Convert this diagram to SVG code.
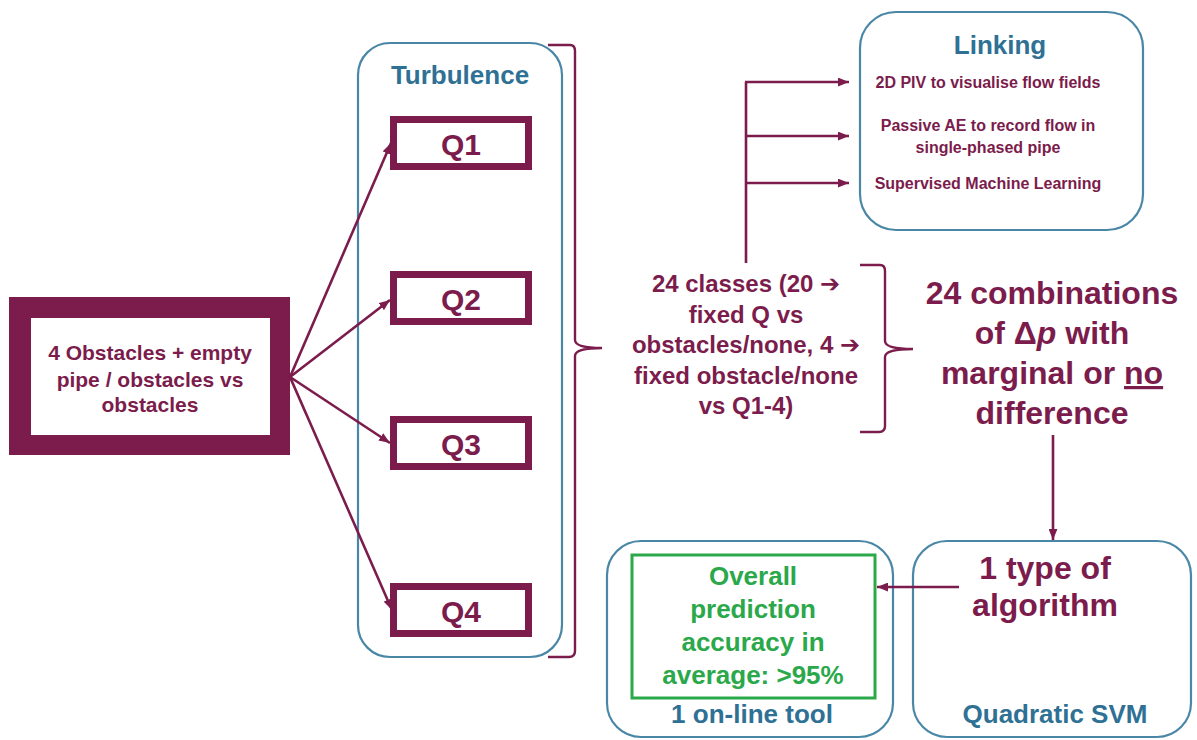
<svg xmlns="http://www.w3.org/2000/svg" width="1197" height="740" viewBox="0 0 1197 740">
<defs>
<style>
.m{fill:#7b1c4c;font-family:"Liberation Sans",Arial,"DejaVu Sans",sans-serif;font-weight:bold;text-anchor:middle}
.t{fill:#2f7194;font-family:"Liberation Sans",Arial,sans-serif;font-weight:bold;text-anchor:middle}
.g{fill:#2aa84a;font-family:"Liberation Sans",Arial,sans-serif;font-weight:bold;text-anchor:middle}
.box{fill:#fff;stroke:#4a87a6;stroke-width:2.2}
.q{fill:#fff;stroke:#7b1c4c;stroke-width:7}
.ln{fill:none;stroke:#7b1c4c;stroke-width:2.6}
.br{fill:none;stroke:#7b1c4c;stroke-width:2.4}
</style>
<marker id="ah" viewBox="0 0 10 8" refX="10" refY="4" markerWidth="11" markerHeight="9" markerUnits="userSpaceOnUse" orient="auto">
<path d="M0,0 L10,4 L0,8 z" fill="#7b1c4c"/>
</marker>
</defs>
<rect width="1197" height="740" fill="#fff"/>

<g id="turbulence">
<rect class="box" x="358" y="43" width="204" height="614" rx="32"/>
<text class="t" x="460" y="84" font-size="26">Turbulence</text>
</g>
<g id="q1"><rect class="q" x="393.5" y="119.5" width="135" height="47"/><text class="m" x="461" y="155" font-size="30">Q1</text></g>
<g id="q2"><rect class="q" x="393.5" y="274.5" width="135" height="47"/><text class="m" x="461" y="310" font-size="30">Q2</text></g>
<g id="q3"><rect class="q" x="393.5" y="419.5" width="135" height="47"/><text class="m" x="461" y="455" font-size="30">Q3</text></g>
<g id="q4"><rect class="q" x="393.5" y="586.5" width="135" height="47"/><text class="m" x="461" y="622" font-size="30">Q4</text></g>

<g id="obstacles">
<rect x="9" y="297" width="281" height="158" fill="#7b1c4c"/>
<rect x="31" y="318" width="239" height="117" fill="#fff"/>
<text class="m" font-size="21"><tspan x="150" y="360">4 Obstacles  + empty</tspan><tspan x="150" y="387">pipe / obstacles vs</tspan><tspan x="150" y="412">obstacles</tspan></text>
</g>

<g id="classes">
<text class="m" font-size="24"><tspan x="746" y="292">24 classes (20 ➔</tspan><tspan x="746" y="322.5">fixed Q vs</tspan><tspan x="746" y="353">obstacles/none, 4 ➔</tspan><tspan x="746" y="383.5">fixed obstacle/none</tspan><tspan x="746" y="414">vs Q1-4)</tspan></text>
</g>

<g id="linking">
<rect class="box" x="860" y="12" width="283" height="218" rx="36"/>
<text class="t" x="1000" y="54" font-size="26">Linking</text>
<text class="m" font-size="16"><tspan x="988" y="88">2D PIV to visualise flow fields</tspan><tspan x="988" y="131">Passive AE to record flow in</tspan><tspan x="988" y="153">single-phased pipe</tspan><tspan x="988" y="189">Supervised Machine Learning</tspan></text>
</g>

<g id="combinations">
<text class="m" font-size="32"><tspan x="1052" y="304">24 combinations</tspan><tspan x="1052" y="344">of Δ<tspan font-style="italic">p</tspan> with</tspan><tspan x="1052" y="384">marginal or <tspan text-decoration="underline">no</tspan></tspan><tspan x="1052" y="424">difference</tspan></text>
</g>

<g id="svm">
<rect class="box" x="913" y="541" width="278" height="196" rx="34"/>
<text class="m" font-size="32"><tspan x="1045" y="579">1 type of</tspan><tspan x="1045" y="616">algorithm</tspan></text>
<text class="t" x="1055" y="723" font-size="26">Quadratic SVM</text>
</g>

<g id="online">
<rect class="box" x="607" y="541" width="286" height="196" rx="34"/>
<rect x="632" y="555" width="243" height="143" fill="none" stroke="#2aa84a" stroke-width="3"/>
<text class="g" font-size="26"><tspan x="753" y="585">Overall</tspan><tspan x="753" y="618">prediction</tspan><tspan x="753" y="651">accuracy in</tspan><tspan x="753" y="684">average: &gt;95%</tspan></text>
<text class="t" x="752" y="723" font-size="26">1 on-line tool</text>
</g>

<g id="connectors">
<line class="ln" x1="290" y1="377" x2="391" y2="143" marker-end="url(#ah)"/>
<line class="ln" x1="290" y1="377" x2="390" y2="300" marker-end="url(#ah)"/>
<line class="ln" x1="290" y1="377" x2="390" y2="443" marker-end="url(#ah)"/>
<line class="ln" x1="290" y1="377" x2="392" y2="610" marker-end="url(#ah)"/>
<path class="br" d="M548,45 L570,45 Q575,45 575,51 L575,340 Q575,348 602,348 Q575,348 575,356 L575,651 Q575,657 569,657 L548,657"/>
<path class="br" d="M860,265 L880,265 Q885,265 885,271 L885,341 Q885,349 913,349 Q885,349 885,357 L885,426 Q885,432 879,432 L860,432"/>
<path class="ln" d="M746,263 L746,82"/>
<line class="ln" x1="745" y1="82" x2="849" y2="82" marker-end="url(#ah)"/>
<line class="ln" x1="746" y1="136" x2="849" y2="136" marker-end="url(#ah)"/>
<line class="ln" x1="746" y1="183" x2="849" y2="183" marker-end="url(#ah)"/>
<line class="ln" x1="1053" y1="435" x2="1053" y2="540" marker-end="url(#ah)"/>
<line class="ln" x1="959" y1="587" x2="877" y2="587" marker-end="url(#ah)"/>
</g>
</svg>
